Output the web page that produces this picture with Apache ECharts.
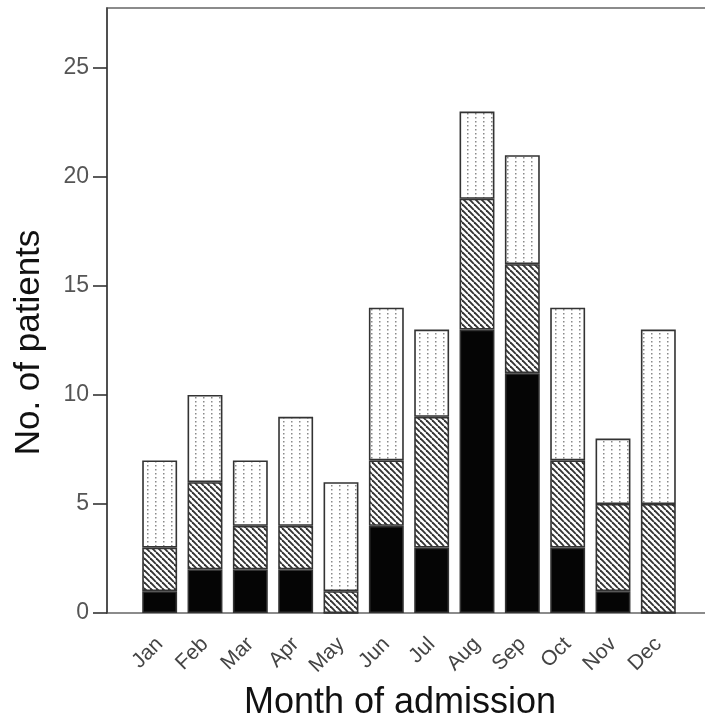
<!DOCTYPE html>
<html>
<head>
<meta charset="utf-8">
<script src="https://cdn.jsdelivr.net/npm/echarts@6/dist/echarts.min.js"></script>
<style>
  html, body { margin: 0; padding: 0; background: #fff; }
  #chart { width: 705px; height: 722px; }
</style>
</head>
<body>
<div id="chart"></div>
<script>
var months = ['Jan', 'Feb', 'Mar', 'Apr', 'May', 'Jun', 'Jul', 'Aug', 'Sep', 'Oct', 'Nov', 'Dec'];
var solidCounts = [1, 2, 2, 2, 0, 4, 3, 13, 11, 3, 1, 0];
var hatchCounts = [2, 4, 2, 2, 1, 3, 6, 6, 5, 4, 4, 5];
var dotCounts = [4, 4, 3, 5, 5, 7, 4, 4, 5, 7, 3, 8];
var yTicks = [0, 5, 10, 15, 20, 25];

// diagonal "\" hatching
function makeHatch() {
    var s = 6;
    var c = document.createElement('canvas');
    c.width = s;
    c.height = s;
    var ctx = c.getContext('2d');
    ctx.fillStyle = '#fff';
    ctx.fillRect(0, 0, s, s);
    ctx.strokeStyle = '#333';
    ctx.lineWidth = 1.9;
    for (var i = -s; i <= s; i += s) {
        ctx.beginPath();
        ctx.moveTo(i, 0);
        ctx.lineTo(i + s, s);
        ctx.stroke();
    }
    return c;
}

// light dotted columns
function makeDots() {
    var c = document.createElement('canvas');
    c.width = 8;
    c.height = 4;
    var ctx = c.getContext('2d');
    ctx.fillStyle = '#fff';
    ctx.fillRect(0, 0, 8, 4);
    ctx.fillStyle = '#8a8a8a';
    ctx.fillRect(3, 1, 1.5, 1.5);
    return c;
}

var barBorder = { borderColor: '#333', borderWidth: 1.6 };
var font = 'Liberation Sans';

var chart = echarts.init(document.getElementById('chart'));
chart.setOption({
    animation: false,
    grid: [
        { left: 107, top: 8, right: -3, bottom: 109, outerBoundsMode: 'none', show: true, borderColor: '#666', borderWidth: 1.6 },
        { left: 137, width: 544, top: 8, bottom: 109, outerBoundsMode: 'none' }
    ],
    xAxis: [
        { gridIndex: 0, type: 'value', min: 0, max: 1, show: false },
        {
            gridIndex: 1,
            type: 'category',
            data: months,
            name: 'Month of admission',
            nameLocation: 'middle',
            nameGap: 72,
            nameTextStyle: { fontFamily: font, fontSize: 36, color: '#111', padding: [0, 18, 0, 0] },
            axisLine: { show: false },
            axisTick: { alignWithLabel: true, length: 14, lineStyle: { color: '#333', width: 1.6 } },
            axisLabel: { rotate: 45, margin: 28, fontFamily: font, fontSize: 21, color: '#444' }
        }
    ],
    yAxis: [
        {
            gridIndex: 0,
            type: 'value',
            min: 0,
            max: 27.75,
            name: 'No. of patients',
            nameLocation: 'middle',
            nameGap: 60,
            nameTextStyle: { fontFamily: font, fontSize: 35, color: '#111', padding: [0, 64, 0, 0] },
            axisLine: { show: true, lineStyle: { color: '#444', width: 1.6 } },
            axisTick: { show: true, length: 14, customValues: yTicks, lineStyle: { color: '#333', width: 1.6 } },
            axisLabel: { margin: 18, customValues: yTicks, fontFamily: font, fontSize: 23, color: '#555' },
            splitLine: { show: false }
        },
        { gridIndex: 1, type: 'value', min: 0, max: 27.75, show: false }
    ],
    series: [
        {
            type: 'bar', xAxisIndex: 1, yAxisIndex: 1, stack: 'm', barCategoryGap: '23%',
            data: solidCounts,
            itemStyle: Object.assign({ color: '#050505' }, barBorder)
        },
        {
            type: 'bar', xAxisIndex: 1, yAxisIndex: 1, stack: 'm',
            data: hatchCounts,
            itemStyle: Object.assign({ color: { image: makeHatch(), repeat: 'repeat' } }, barBorder)
        },
        {
            type: 'bar', xAxisIndex: 1, yAxisIndex: 1, stack: 'm',
            data: dotCounts,
            itemStyle: Object.assign({ color: { image: makeDots(), repeat: 'repeat' } }, barBorder)
        }
    ]
});
</script>
</body>
</html>
